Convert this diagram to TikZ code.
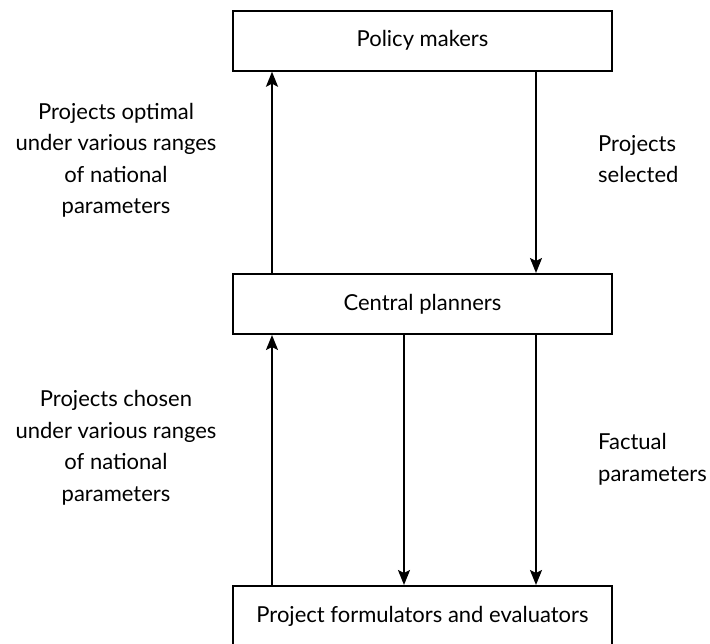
\documentclass[tikz,border=0pt]{standalone}
\usepackage{fontspec}
\setmainfont{Lato}
\usetikzlibrary{arrows.meta,calc}

\tikzset{
  stage/.style={draw, line width=2pt, minimum width=379pt, minimum height=60pt,
                inner sep=0pt, font=\fontsize{22}{31.5}\selectfont},
  flow/.style={line width=2pt, -{Stealth[length=15pt,width=12pt,inset=3pt]}},
  note/.style={font=\fontsize{22}{31.5}\selectfont, inner sep=0pt}
}

\begin{document}
\begin{tikzpicture}[x=1pt,y=-1pt]
  \useasboundingbox (0,0) rectangle (710,644);

  % the three levels of the planning process
  \node[stage] (pm) at (422.5,40.7) {Policy makers};
  \node[stage] (cp) at (422.5,304) {Central planners};
  \node[stage] (pf) at (422.5,616) {Project formulators and evaluators};

  % vertical positions of the connectors
  \coordinate (xl) at (272,0);
  \coordinate (xm) at (404,0);
  \coordinate (xr) at (536,0);

  % upper exchange
  \draw[flow] (cp.north -| xl) -- (pm.south -| xl);
  \draw[flow] (pm.south -| xr) -- (cp.north -| xr);

  % lower exchange
  \draw[flow] (pf.north -| xl) -- (cp.south -| xl);
  \draw[flow] (cp.south -| xm) -- (pf.north -| xm);
  \draw[flow] (cp.south -| xr) -- (pf.north -| xr);

  % labels (anchored on the baseline of their last line)
  \node[note, align=center, anchor=base] (l1) at (116,214)
    {Projects optimal\\under various ranges\\of national\\parameters};
  \node[note, align=center, anchor=base] (l2) at (116,501)
    {Projects chosen\\under various ranges\\of national\\parameters};
  \node[note, align=left, anchor=base west] (r1) at (598,183)
    {Projects\\selected};
  \node[note, align=left, anchor=base west] (r2) at (598,481)
    {Factual\\parameters};
\end{tikzpicture}
\end{document}
